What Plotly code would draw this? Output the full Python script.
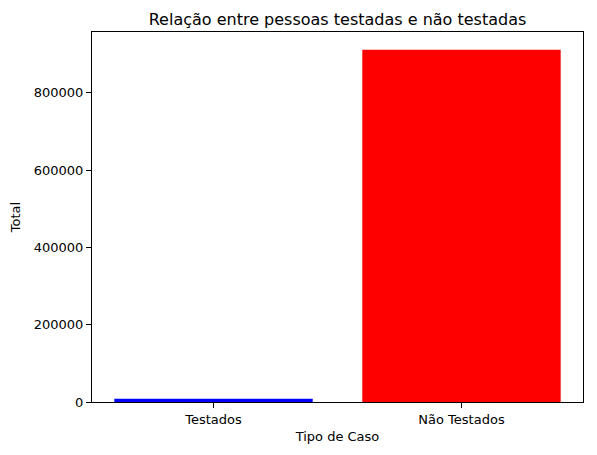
import plotly.graph_objects as go

categorias = ["Testados", "Não Testados"]
totais = [8500, 911000]
cores = ["#0000ff", "#ff0000"]

fig = go.Figure(go.Bar(x=categorias, y=totais, marker=dict(color=cores, line=dict(width=0)), width=0.8))

font = dict(family="DejaVu Sans", size=13, color="black")
# page body has an 8px default margin on every side; size the figure so the page is 597x455
fig.update_layout(
    width=581, height=439,
    margin=dict(l=84, r=6, t=24, b=45, autoexpand=False),
    paper_bgcolor="white", plot_bgcolor="white",
    font=font,
    showlegend=False,
    title=dict(text="Relação entre pessoas testadas e não testadas", x=0.5, xref="paper",
               xanchor="center", y=1, yref="paper", yanchor="bottom", pad=dict(b=7),
               automargin=False,
               font=dict(family="DejaVu Sans", size=16, color="black")),
)
fig.update_xaxes(
    type="category", range=[-0.49, 1.49], automargin=False,
    showline=True, linecolor="black", linewidth=1, mirror=True,
    ticks="outside", ticklen=5, tickcolor="black", showgrid=False,
    title=dict(text="Tipo de Caso", standoff=6, font=font),
)
fig.update_yaxes(
    range=[0, 957000], tickvals=[0, 200000, 400000, 600000, 800000], automargin=False,
    ticktext=["0", "200000", "400000", "600000", "800000"],
    showline=True, linecolor="black", linewidth=1, mirror=True,
    ticks="outside", ticklen=5, tickcolor="black", showgrid=False, zeroline=False,
    title=dict(text="Total", standoff=10, font=font),
)
fig.write_html("out.html")
